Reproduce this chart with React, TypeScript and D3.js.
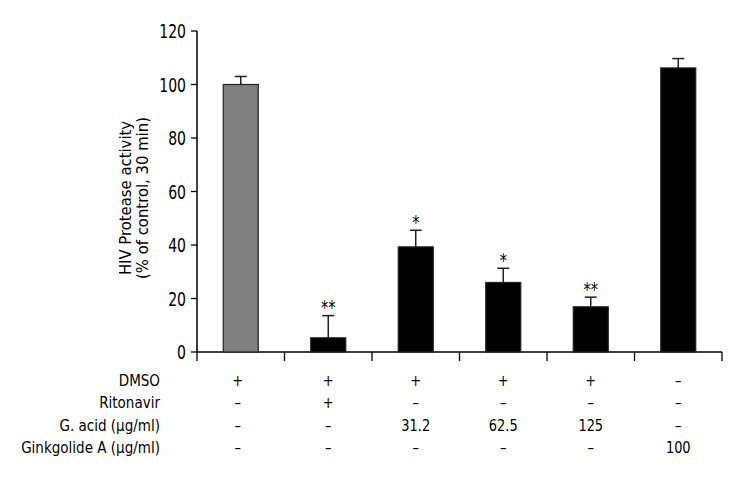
import React from "react";
import * as d3 from "d3";

const groups = ["Control", "Ritonavir", "GA 31.2", "GA 62.5", "GA 125", "Ginkgolide A"];
const values = [100, 5.3, 39.3, 26.0, 16.9, 106.2];
const errors = [3.0, 8.3, 6.2, 5.3, 3.6, 3.5];
const stars = ["", "**", "*", "*", "**", ""];
const fills = ["#808080", "#000000", "#000000", "#000000", "#000000", "#000000"];
const yTicks = [0, 20, 40, 60, 80, 100, 120];
const rowLabels = ["DMSO", "Ritonavir", "G. acid (µg/ml)", "Ginkgolide A (µg/ml)"];
const rowValues = [
  ["+", "+", "+", "+", "+", "–"],
  ["–", "+", "–", "–", "–", "–"],
  ["–", "–", "31.2", "62.5", "125", "–"],
  ["–", "–", "–", "–", "–", "100"],
];
const yLabelLines = ["HIV Protease activity", "(% of control, 30 min)"];

const W = 740;
const H = 500;
const FONT = "'DejaVu Sans Condensed', 'Liberation Sans Narrow', sans-serif";

function CText(props: {
  x: number;
  y: number;
  sx?: number;
  size: number;
  anchor?: "start" | "middle" | "end";
  dy?: string;
  children: React.ReactNode;
}) {
  const { x, y, sx = 1, size, anchor = "middle", dy, children } = props;
  return (
    <text
      transform={`translate(${x},${y}) scale(${sx},1)`}
      textAnchor={anchor}
      fontSize={size}
      dy={dy}
      fill="#000"
    >
      {children}
    </text>
  );
}

export default function App() {
  const x0 = 197;
  const x1 = 722;
  const yScale = d3.scaleLinear().domain([0, 120]).range([352, 31]);
  const xScale = d3
    .scaleBand<string>()
    .domain(groups)
    .range([x0, x1])
    .paddingInner(0.6)
    .paddingOuter(0.3);
  const boundaries = d3.range(groups.length + 1).map((i) => x0 + (i * (x1 - x0)) / groups.length);
  const rowY = [386, 408, 430.5, 453];

  return (
    <svg
      width={W}
      height={H}
      style={{ position: "absolute", left: 0, top: 0, background: "#fff" }}
      fontFamily={FONT}
    >
      <rect x={0} y={0} width={W} height={H} fill="#fff" />
      {/* y axis */}
      <line x1={x0} x2={x0} y1={yScale(120)} y2={yScale(0)} stroke="#000" strokeWidth={1.5} />
      {yTicks.map((t) => (
        <g key={t}>
          <line x1={x0 - 6} x2={x0} y1={yScale(t)} y2={yScale(t)} stroke="#000" strokeWidth={1.3} />
          <CText x={x0 - 11} y={yScale(t)} dy="0.36em" anchor="end" size={20} sx={0.78}>
            {t}
          </CText>
        </g>
      ))}
      {/* x axis */}
      <line x1={x0} x2={x1} y1={yScale(0)} y2={yScale(0)} stroke="#000" strokeWidth={1.5} />
      {boundaries.map((b, i) => (
        <line key={i} x1={b} x2={b} y1={yScale(0)} y2={yScale(0) + 9} stroke="#000" strokeWidth={1.3} />
      ))}
      {/* y label */}
      <g transform={`translate(131, 198) rotate(-90)`}>
        <text x={0} y={0} textAnchor="middle" fontSize={16.5} fill="#000">
          {yLabelLines[0]}
        </text>
        <text x={0} y={17} textAnchor="middle" fontSize={16.5} fill="#000">
          {yLabelLines[1]}
        </text>
      </g>
      {/* bars */}
      {groups.map((g, i) => {
        const bx = xScale(g)!;
        const bw = xScale.bandwidth();
        const cx = bx + bw / 2;
        const top = yScale(values[i]);
        const eTop = yScale(values[i] + errors[i]);
        return (
          <g key={g}>
            <line x1={cx} x2={cx} y1={top} y2={eTop} stroke="#222" strokeWidth={1.5} />
            <line x1={cx - 6} x2={cx + 6} y1={eTop} y2={eTop} stroke="#222" strokeWidth={1.5} />
            <rect
              x={bx}
              y={top}
              width={bw}
              height={yScale(0) - top}
              fill={fills[i]}
              stroke="#222"
              strokeWidth={1.2}
            />
            {stars[i] && (
              <CText x={cx} y={eTop - 1.5} size={20} sx={0.8}>
                {stars[i]}
              </CText>
            )}
          </g>
        );
      })}
      {/* table */}
      {rowLabels.map((lab, r) => (
        <g key={lab}>
          <CText x={160} y={rowY[r]} anchor="end" size={15.5} sx={0.97}>
            {lab}
          </CText>
          {rowValues[r].map((v, i) => {
            const cx = xScale(groups[i])! + xScale.bandwidth() / 2;
            return (
              <CText key={i} x={cx - (i === 0 ? 3 : 0)} y={rowY[r]} size={16} sx={0.9}>
                {v}
              </CText>
            );
          })}
        </g>
      ))}
    </svg>
  );
}
